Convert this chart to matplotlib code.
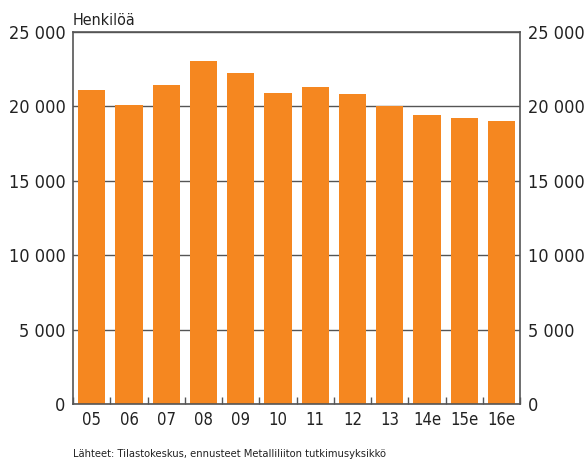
import matplotlib
matplotlib.use("Agg")
import matplotlib.pyplot as plt
from matplotlib.ticker import FuncFormatter, MultipleLocator
import numpy as np

plt.rcParams['font.family'] = ['DejaVu Sans']
plt.rcParams['font.stretch'] = 'condensed'

# data
years = ["05", "06", "07", "08", "09", "10", "11", "12", "13", "14e", "15e", "16e"]
henkiloa = [21100, 20100, 21450, 23060, 22250, 20910, 21310, 20840, 20030, 19430, 19230, 19020]
yticks = [0, 5000, 10000, 15000, 20000, 25000]

bar_color = "#F58720"
line_color = "#555555"

fig = plt.figure(figsize=(5.85, 4.61), dpi=100)
ax = fig.add_axes([0.125, 0.1236, 0.764, 0.807])

x = np.arange(len(years))
ax.bar(x, henkiloa, width=0.73, color=bar_color, zorder=2)

ax.set_xlim(-0.5, len(years) - 0.5)
ax.set_ylim(0, 25000)
ax.set_yticks(yticks)
fmt = FuncFormatter(lambda v, p: "{:,}".format(int(v)).replace(",", " "))
ax.yaxis.set_major_formatter(fmt)
ax.yaxis.grid(True, color=line_color, linewidth=1, zorder=1)
ax.set_axisbelow(True)

ax.set_xticks(x)
ax.set_xticklabels(years)
ax.xaxis.set_minor_locator(MultipleLocator(1, offset=0.5))
ax.tick_params(axis='x', which='major', length=0, labelsize=12, pad=5, colors='#222222')
ax.tick_params(axis='x', which='minor', length=5, direction='in', color=line_color, width=1)
ax.tick_params(axis='y', length=0, labelsize=13, pad=5.5, colors='#222222',
               labelleft=True, labelright=True)

for s in ax.spines.values():
    s.set_color(line_color)
    s.set_linewidth(1.2)

ax.text(0.0, 1.01, "Henkilöä", transform=ax.transAxes, fontsize=11.5,
        ha='left', va='bottom', color='#222222')
fig.text(0.125, 0.005, "Lähteet: Tilastokeskus, ennusteet Metalliliiton tutkimusyksikkö",
         fontsize=8, ha='left', va='bottom', color='#222222')

fig.savefig("out.png", dpi=100)
